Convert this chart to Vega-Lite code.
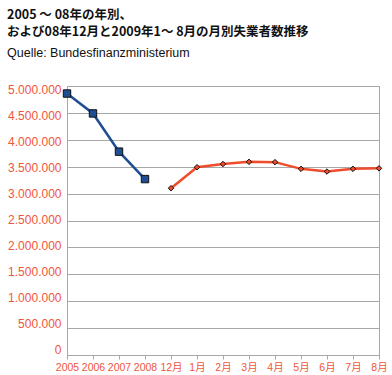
{
  "$schema": "https://vega.github.io/schema/vega-lite/v6.json",
  "width": 312,
  "height": 269,
  "autosize": "none",
  "padding": {"left": 67, "top": 86, "right": 13, "bottom": 20},
  "background": "white",
  "config": {
    "locale": {"number": {"decimal": ",", "thousands": ".", "grouping": [3], "currency": ["", " €"]}},
    "view": {"stroke": "#a8a8a8", "strokeWidth": 1},
    "font": "Liberation Sans"
  },
  "title": {
    "text": ["2005 ～ 08年の年別、", "および08年12月と2009年1～ 8月の月別失業者数推移"],
    "subtitle": "Quelle: Bundesfinanzministerium",
    "anchor": "start",
    "frame": "group",
    "dx": -60,
    "offset": 24,
    "font": "Noto Sans CJK JP",
    "fontSize": 12.5,
    "fontWeight": "bold",
    "color": "#111111",
    "lineHeight": 17.5,
    "subtitleFont": "Liberation Sans",
    "subtitleFontSize": 12.5,
    "subtitleColor": "#111111",
    "subtitlePadding": 8
  },
  "data": {
    "values": [
      {"label": "2005", "value": 4860000, "series": "year"},
      {"label": "2006", "value": 4490000, "series": "year"},
      {"label": "2007", "value": 3780000, "series": "year"},
      {"label": "2008", "value": 3270000, "series": "year"},
      {"label": "12月", "value": 3100000, "series": "month"},
      {"label": "1月", "value": 3490000, "series": "month"},
      {"label": "2月", "value": 3550000, "series": "month"},
      {"label": "3月", "value": 3590000, "series": "month"},
      {"label": "4月", "value": 3585000, "series": "month"},
      {"label": "5月", "value": 3460000, "series": "month"},
      {"label": "6月", "value": 3410000, "series": "month"},
      {"label": "7月", "value": 3460000, "series": "month"},
      {"label": "8月", "value": 3470000, "series": "month"}
    ]
  },
  "encoding": {
    "x": {
      "field": "label",
      "type": "ordinal",
      "sort": null,
      "scale": {"type": "point", "padding": 0},
      "axis": {
        "title": null,
        "labelAngle": 0,
        "labelColor": "#f0553a",
        "labelFont": "Liberation Sans, Noto Sans CJK JP",
        "labelFontSize": 10.5,
        "labelPadding": 3,
        "labelOverlap": false,
        "tickColor": "#a8a8a8",
        "tickSize": 4,
        "domainColor": "#a8a8a8",
        "grid": false
      }
    },
    "y": {
      "field": "value",
      "type": "quantitative",
      "scale": {"domain": [0, 5000000]},
      "axis": {
        "title": null,
        "values": [0, 500000, 1000000, 1500000, 2000000, 2500000, 3000000, 3500000, 4000000, 4500000, 5000000],
        "format": ",d",
        "labelColor": "#f0553a",
        "labelFontSize": 12,
        "labelPadding": 6,
        "labelOffset": {"expr": "-6 + 9 * datum.value / 5000000"},
        "ticks": false,
        "domainColor": "#a8a8a8",
        "gridColor": "#a8a8a8",
        "gridOpacity": 1
      }
    },
    "color": {
      "field": "series",
      "type": "nominal",
      "scale": {"domain": ["year", "month"], "range": ["#1f4e93", "#ee4c2a"]},
      "legend": null
    }
  },
  "layer": [
    {"mark": {"type": "line", "strokeWidth": 2.5}},
    {
      "mark": {"type": "point", "filled": true, "opacity": 1, "stroke": "#111111", "strokeWidth": 1},
      "encoding": {
        "shape": {"field": "series", "type": "nominal", "scale": {"domain": ["year", "month"], "range": ["square", "diamond"]}, "legend": null},
        "size": {"field": "series", "type": "nominal", "scale": {"domain": ["year", "month"], "range": [55, 30]}, "legend": null}
      }
    }
  ]
}
